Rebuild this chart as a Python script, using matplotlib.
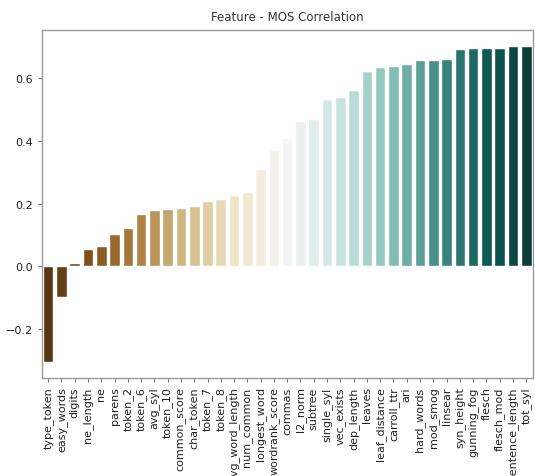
import matplotlib
matplotlib.use('Agg')
import matplotlib.pyplot as plt
import seaborn as sns

FEATURES = ['type_token', 'easy_words', 'digits', 'ne_length', 'ne', 'parens',
            'token_2', 'token_6', 'avg_syl', 'token_10', 'common_score',
            'char_token', 'token_7', 'token_8', 'avg_word_length', 'num_common',
            'longest_word', 'wordrank_score', 'commas', 'l2_norm', 'subtree',
            'single_syl', 'vec_exists', 'dep_length', 'leaves', 'leaf_distance',
            'carroll_ttr', 'ari', 'hard_words', 'mod_smog', 'linsear',
            'syn_height', 'gunning_fog', 'flesch', 'flesch_mod',
            'sentence_length', 'tot_syl']
CORRELATION = [-0.306, -0.097, 0.010, 0.055, 0.065, 0.102,
               0.123, 0.167, 0.180, 0.182, 0.186,
               0.192, 0.208, 0.214, 0.228, 0.236,
               0.310, 0.369, 0.409, 0.463, 0.470,
               0.534, 0.541, 0.563, 0.623, 0.635,
               0.638, 0.644, 0.656, 0.658, 0.660,
               0.693, 0.696, 0.696, 0.697,
               0.702, 0.703]

sns.set_style('white')
plt.rcParams['font.family'] = ['DejaVu Sans']

fig = plt.figure(figsize=(5.35, 4.77), dpi=100)
ax = fig.add_axes([0.0776, 0.2055, 0.9184, 0.7295])

sns.barplot(x=FEATURES, y=CORRELATION, hue=FEATURES, palette='BrBG',
            legend=False, ax=ax)

ax.set_ylim(-0.356, 0.753)
ax.set_yticks([-0.2, 0.0, 0.2, 0.4, 0.6])
ax.set_title('Feature - MOS Correlation', fontsize=8.5, color='#333333', pad=7)
ax.tick_params(axis='x', rotation=90, labelsize=8, length=3, pad=3,
               color='#777777', labelcolor='#222222', bottom=True)
ax.tick_params(axis='y', labelsize=8, length=3, pad=3, color='#777777',
               labelcolor='#222222', left=True)
for side in ax.spines.values():
    side.set_color('#999999')
    side.set_linewidth(1.0)

fig.savefig('out.png', dpi=100)
